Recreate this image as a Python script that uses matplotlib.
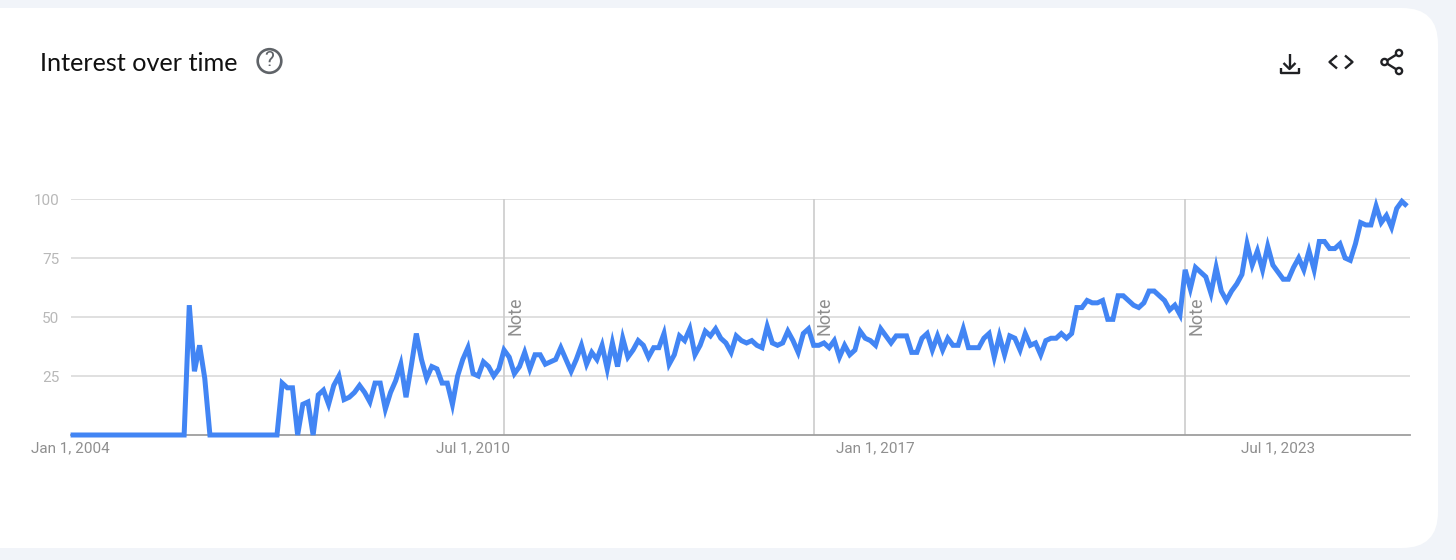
import matplotlib
matplotlib.use("Agg")
import matplotlib.pyplot as plt
from matplotlib.patches import Circle, FancyBboxPatch

W, H = 1456, 560

interest = [
    0, 0, 0, 0, 0, 0, 0, 0, 0, 0, 0, 0,
    0, 0, 0, 0, 0, 0, 0, 0, 0, 0, 0, 55,
    27, 38, 24, 0, 0, 0, 0, 0, 0, 0, 0, 0,
    0, 0, 0, 0, 0, 22, 20, 20, 0, 13, 14, 0,
    17, 19, 13, 21, 25, 15, 16, 18, 21, 18, 14, 22,
    22, 11, 18, 23, 30, 16, 29, 43, 32, 24, 29, 28,
    22, 22, 13, 25, 32, 37, 26, 25, 31, 29, 25, 28,
    36, 33, 26, 29, 35, 28, 34, 34, 30, 31, 32, 37,
    32, 27, 32, 38, 30, 35, 32, 38, 28, 39, 29, 41,
    33, 36, 40, 38, 33, 37, 37, 43, 30, 34, 42, 40,
    45, 34, 38, 44, 42, 45, 41, 39, 35, 42, 40, 39,
    40, 38, 37, 46, 39, 38, 39, 44, 40, 35, 43, 45,
    38, 38, 39, 37, 40, 33, 38, 34, 36, 44, 41, 40,
    38, 45, 42, 39, 42, 42, 42, 35, 35, 41, 43, 36,
    42, 36, 41, 38, 38, 45, 37, 37, 37, 41, 43, 33,
    42, 34, 42, 41, 36, 43, 38, 39, 34, 40, 41, 41,
    43, 41, 43, 54, 54, 57, 56, 56, 57, 49, 49, 59,
    59, 57, 55, 54, 56, 61, 61, 59, 57, 53, 55, 51,
    70, 62, 71, 69, 67, 60, 71, 61, 57, 61, 64, 68,
    81, 72, 78, 70, 80, 72, 69, 66, 66, 71, 75, 70,
    78, 70, 82, 82, 79, 79, 81, 75, 74, 81, 90, 89,
    89, 97, 90, 93, 88, 96, 99, 97,
]
months = list(range(len(interest)))

tick_months = [0, 78, 156, 234]
tick_labels = ["Jan 1, 2004", "Jul 1, 2010", "Jan 1, 2017", "Jul 1, 2023"]
y_ticks = [25, 50, 75, 100]
note_months = [84, 144, 216]

fig = plt.figure(figsize=(W / 100, H / 100), dpi=100, facecolor="#f1f4f9")

# page layer in pixel coordinates, y going down
bg = fig.add_axes([0, 0, 1, 1])
bg.set_xlim(0, W)
bg.set_ylim(H, 0)
bg.axis("off")
bg.add_patch(FancyBboxPatch((-40, 8), 1478, 540, boxstyle="round,pad=0,rounding_size=36",
                            fc="white", ec="none"))
bg.text(39.5, 63.5, "Interest over time", fontsize=18.2, family="Lato", color="#111111",
        va="center", ha="left")

# help icon
bg.add_patch(Circle((269.5, 61), 11.8, fc="none", ec="#5f6368", lw=1.9))
bg.text(269.5, 60.5, "?", fontsize=15, family="Roboto", color="#5f6368", ha="center", va="center")

# download icon
ic = dict(color="#202124", lw=1.7, solid_capstyle="butt")
bg.plot([1289.5, 1289.5], [54, 69], **ic)
bg.plot([1283.5, 1289.5, 1295.5], [63, 69, 63], **ic)
bg.plot([1280.5, 1280.5, 1299, 1299], [68, 73, 73, 68], **ic)
# embed icon
bg.plot([1337, 1329.5, 1337], [55.5, 62, 68.5], **ic)
bg.plot([1345, 1352.5, 1345], [55.5, 62, 68.5], **ic)
# share icon
bg.plot([1399, 1384.5, 1399], [53, 62, 71], **ic)
for cx, cy in [(1399, 53), (1384.5, 62), (1399, 71)]:
    bg.add_patch(Circle((cx, cy), 3.1, fc="white", ec="#202124", lw=1.7, zorder=3))

# chart, x 70-1410 and y 199-435 in pixels
ax = fig.add_axes([70.6 / W, 1 - 435 / H, 1339.4 / W, 236 / H])
ax.patch.set_alpha(0)
ax.set_xlim(0, 1339.4 / 5.16)
ax.set_ylim(0, 100)
for s in ["top", "left", "right"]:
    ax.spines[s].set_visible(False)
ax.spines["bottom"].set_color("#9e9e9e")
ax.spines["bottom"].set_linewidth(1.3)
ax.set_yticks(y_ticks)
ax.set_xticks(tick_months)
ax.set_xticklabels(tick_labels, fontsize=11, family="Roboto", color="#8f8f8f")
ax.set_yticklabels([str(v) for v in y_ticks], fontsize=11, family="Roboto", color="#b8b8b8")
ax.tick_params(axis="both", length=0)
ax.tick_params(axis="x", pad=4.5)
ax.tick_params(axis="y", pad=8)
ax.grid(axis="y", color="#e0e0e0", lw=1.4)
ax.set_axisbelow(True)

for m in note_months:
    ax.axvline(m, color="#cccccc", lw=1.2, zorder=1)
    ax.text(m + 2.15, 42.5, "Note", rotation=90, fontsize=13, family="Roboto", color="#8f8f8f",
            ha="center", va="bottom", zorder=2)

ax.plot(months, interest, color="#4285f4", lw=3.6, solid_joinstyle="miter",
        solid_capstyle="butt", zorder=3, clip_on=False)

fig.savefig("out.png", dpi=100, facecolor=fig.get_facecolor())
